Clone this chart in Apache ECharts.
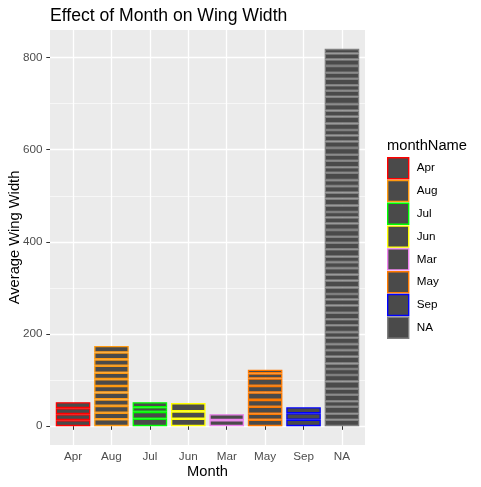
<!DOCTYPE html>
<html>
<head>
<meta charset="utf-8">
<script src="https://cdn.jsdelivr.net/npm/echarts@6/dist/echarts.min.js"></script>
<style>html,body{margin:0;padding:0;background:#fff}#c{width:481px;height:487px}</style>
</head>
<body>
<div id="c"></div>
<script>
// ---- data (segments listed bottom to top) ----
const categories = ['Apr', 'Aug', 'Jul', 'Jun', 'Mar', 'May', 'Sep', 'NA'];
const segApr = [13, 13, 13, 13];
const segAug = [15, 14, 15, 14, 15, 14, 15, 14, 15, 14, 15, 14];
const segJul = [16, 15, 10, 11];
const segJun = [16, 16, 18];
const segMar = [13, 13];
const segMay = [14, 13, 15, 15, 16, 14.5, 16, 11, 8];
const segSep = [14, 14, 13];
const segNA = [14,13,15,12,14,13,16,14,13,12,15,14,13,14,12,15,13,14,16,13,12,14,15,13,14,13,12,16,14,13,15,14,13,12,14,15,13,14,13,16,12,14,13,15,14,13,12,14,15,13,14,16,13,12,14,13,15,14,13,10];
const borderColors = ['#FF0000', '#FF9A10', '#00FF00', '#FFFF00', '#EE82EE', '#FF7A00', '#0000FF', '#7F7F7F'];
const yTicks = [0, 200, 400, 600, 800];
const yMinorTicks = [100, 300, 500, 700];
const legendTitle = 'monthName';

(function () {
const segments = [segApr, segAug, segJul, segJun, segMar, segMay, segSep, segNA];
const totals = segments.map(s => s.reduce((a, b) => a + b, 0));
const maxTotal = Math.max(...totals);
const yMin = -0.05 * maxTotal, yMax = maxTotal * 1.05;
const fill = '#4A4A4A';
const font = 'Liberation Sans, Arial, Helvetica, sans-serif';

const maxLayers = Math.max(...segments.map(s => s.length));
const series = [];
for (let k = 0; k < maxLayers; k++) {
  series.push({
    type: 'bar', stack: 'all', xAxisIndex: 1, yAxisIndex: 2, barWidth: '90%',
    silent: true,
    data: segments.map((s, i) => k < s.length
      ? { value: s[k], itemStyle: { color: fill, borderColor: borderColors[i], borderWidth: 1.3 } }
      : '-')
  });
}
categories.forEach((c, i) => {
  series.push({ type: 'bar', name: c, stack: 'all', xAxisIndex: 1, yAxisIndex: 2, data: [],
    itemStyle: { color: fill, borderColor: borderColors[i], borderWidth: 1.3 } });
});

const chart = echarts.init(document.getElementById('c'), null, { renderer: 'canvas' });
chart.setOption({
  animation: false,
  title: [
    { text: 'Effect of Month on Wing Width', left: 50, top: 7, padding: 0,
      textStyle: { fontFamily: font, fontSize: 17.6, fontWeight: 'normal', color: '#000' } },
    { text: legendTitle, left: 387, top: 138, padding: 0,
      textStyle: { fontFamily: font, fontSize: 14.7, fontWeight: 'normal', color: '#000' } }
  ],
  legend: {
    orient: 'vertical', left: 387, top: 157, padding: 0,
    itemWidth: 21, itemHeight: 21, itemGap: 0.4, icon: 'rect',
    selectedMode: false,
    data: categories.map((c, i) => ({ name: c, icon: 'rect',
      itemStyle: { color: fill, borderColor: borderColors[i], borderWidth: 1.4 } })),
    textStyle: { fontFamily: font, fontSize: 11.7, color: '#000', padding: [0, 0, 0, 3] }
  },
  grid: [
    { left: 50, right: 116, top: 30, bottom: 42, show: true, backgroundColor: '#EBEBEB', borderWidth: 0, containLabel: false, outerBoundsMode: 'none' },
    { left: 53.84, right: 119.84, top: 30, bottom: 42, containLabel: false, outerBoundsMode: 'none' }
  ],
  xAxis: [
    { type: 'value', gridIndex: 0, min: 0.4, max: 8.6,
      axisLine: { show: false }, axisLabel: { show: false },
      axisTick: { show: false, customValues: [1, 2, 3, 4, 5, 6, 7, 8] },
      splitLine: { show: true, lineStyle: { color: '#FFFFFF', width: 1.3 } } },
    { type: 'category', gridIndex: 1, data: categories,
      axisLine: { show: false },
      axisTick: { show: true, alignWithLabel: true, length: 3.7, lineStyle: { color: '#333333', width: 1 } },
      axisLabel: { fontFamily: font, fontSize: 11.7, color: '#4D4D4D', margin: 6 },
      splitLine: { show: false },
      name: 'Month', nameLocation: 'middle', nameGap: 19, nameMoveOverlap: false,
      nameTextStyle: { fontFamily: font, fontSize: 14.7, color: '#000' } }
  ],
  yAxis: [
    { type: 'value', gridIndex: 0, min: yMin, max: yMax,
      axisLine: { show: false },
      axisTick: { show: true, length: 3.7, customValues: yTicks, lineStyle: { color: '#333333', width: 1 } },
      axisLabel: { customValues: yTicks, fontFamily: font, fontSize: 11.7, color: '#4D4D4D', margin: 7.5 },
      splitLine: { show: true, lineStyle: { color: '#FFFFFF', width: 1.3 } },
      name: 'Average Wing Width', nameLocation: 'middle', nameGap: 28, nameRotate: 90, nameMoveOverlap: false,
      nameTextStyle: { fontFamily: font, fontSize: 14.7, color: '#000' } },
    { type: 'value', gridIndex: 0, min: yMin, max: yMax, position: 'left', z: 0,
      axisLine: { show: false }, axisLabel: { show: false },
      axisTick: { show: false, customValues: yMinorTicks },
      splitLine: { show: true, lineStyle: { color: '#FFFFFF', width: 0.6 } } },
    { type: 'value', gridIndex: 1, min: yMin, max: yMax,
      axisLine: { show: false }, axisLabel: { show: false }, axisTick: { show: false },
      splitLine: { show: false } }
  ],
  series: series
});
})();
</script>
</body>
</html>
